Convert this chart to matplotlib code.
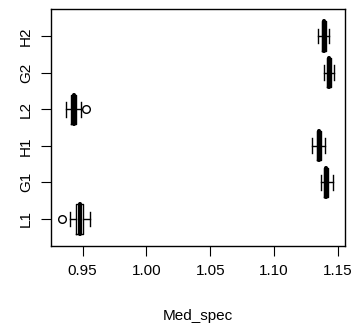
import numpy as np
import matplotlib.pyplot as plt

plt.rcParams['font.family'] = ['Liberation Sans', 'DejaVu Sans']

# group labels in plotting order (bottom to top)
groups = ['L1', 'G1', 'H1', 'L2', 'G2', 'H2']

# five-number summaries
whislo = [0.9401, 1.1365, 1.1300, 0.9368, 1.1393, 1.1347]
q1 = [0.9448, 1.1393, 1.1339, 0.9411, 1.1414, 1.1373]
med = [0.9477, 1.1409, 1.1352, 0.9430, 1.1430, 1.1389]
q3 = [0.9502, 1.1424, 1.1370, 0.9450, 1.1446, 1.1404]
whishi = [0.9554, 1.1459, 1.1399, 0.9490, 1.1471, 1.1430]
outliers = [[0.9337], [], [], [0.9526], [], []]


def main():
    stats = []
    for i, g in enumerate(groups):
        stats.append(dict(label=g, whislo=whislo[i], q1=q1[i], med=med[i],
                          q3=q3[i], whishi=whishi[i], fliers=outliers[i]))

    fig = plt.figure(figsize=(3.63, 3.27), dpi=100)
    ax = fig.add_axes([0.1405, 0.2477, 0.8095, 0.7248])

    ax.bxp(stats, positions=np.arange(1, len(groups) + 1), widths=0.8,
           orientation='horizontal', showfliers=True,
           boxprops=dict(color='black', linewidth=1),
           medianprops=dict(color='black', linewidth=3, solid_capstyle='round'),
           whiskerprops=dict(color='black', linewidth=1),
           capprops=dict(color='black', linewidth=1),
           flierprops=dict(marker='o', markerfacecolor='none',
                           markeredgecolor='black', markersize=5.5,
                           markeredgewidth=1),
           capwidths=0.4)

    ax.set_xlim(0.9252, 1.1555)
    ax.set_ylim(0.26, 6.74)
    ax.set_xticks([0.95, 1.00, 1.05, 1.10, 1.15])
    ax.set_xticklabels(['0.95', '1.00', '1.05', '1.10', '1.15'])
    ax.set_yticks(np.arange(1, len(groups) + 1))
    ax.set_yticklabels(groups, rotation=90, va='center')
    ax.tick_params(axis='both', labelsize=11, length=7, width=0.8,
                   direction='out', pad=6)
    for s in ax.spines.values():
        s.set_linewidth(1)
    ax.set_xlabel('Med_spec', fontsize=11, labelpad=22)

    plt.savefig('out.png', dpi=100)


if __name__ == '__main__':
    main()
